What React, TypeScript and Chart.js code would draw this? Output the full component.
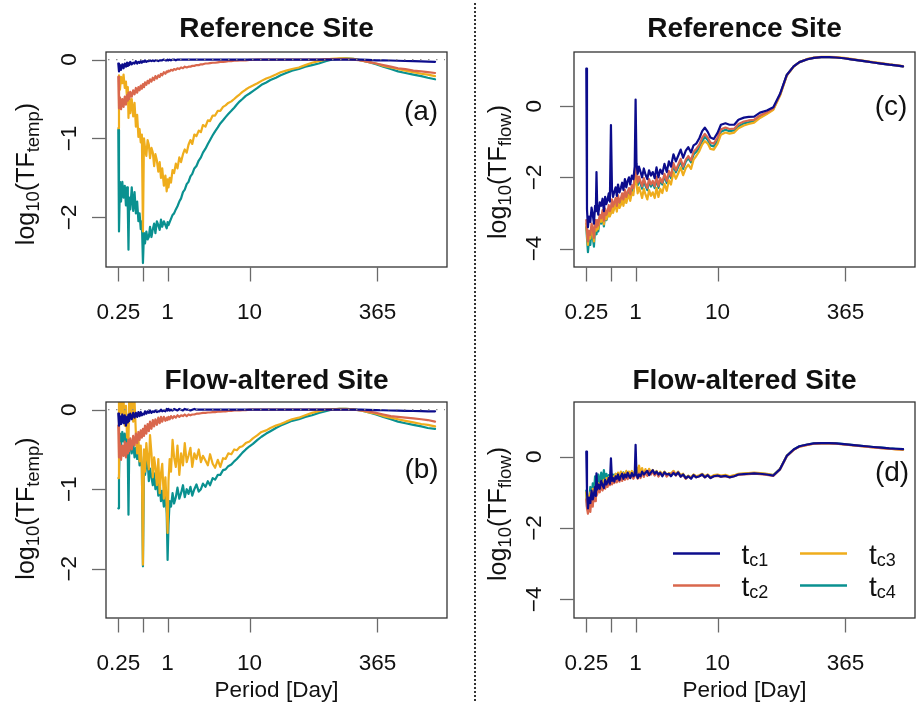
import React, { useEffect, useRef } from "react";
import { Chart, registerables } from "chart.js";

Chart.register(...registerables);

const FONT = '"Liberation Sans", Arial, Helvetica, sans-serif';

// Period grid (days), shared by all panels
const PERIOD = [
  0.25, 0.255, 0.262, 0.27, 0.28, 0.29, 0.3, 0.31, 0.32, 0.327,
  0.333, 0.34, 0.35, 0.365, 0.38, 0.395, 0.41, 0.425, 0.44, 0.455,
  0.47, 0.485, 0.5, 0.515, 0.53, 0.55, 0.57, 0.59, 0.61, 0.635,
  0.66, 0.685, 0.71, 0.74, 0.77, 0.8, 0.83, 0.86, 0.9, 0.94,
  0.975, 1.0, 1.025, 1.06, 1.1, 1.15, 1.2, 1.26, 1.32, 1.39,
  1.46, 1.54, 1.62, 1.71, 1.8, 1.9, 2.0, 2.12, 2.25, 2.4,
  2.55, 2.7, 2.9, 3.1, 3.3, 3.55, 3.8, 4.1, 4.4, 4.75,
  5.1, 5.5, 6.0, 6.5, 7.0, 7.6, 8.2, 9.0, 10, 11,
  12.5, 14, 16, 18, 21, 24, 28, 33, 40, 48,
  58, 70, 85, 100, 125, 150, 185, 230, 280, 350,
  430, 530, 650, 800, 1000, 1250, 1500, 1840,
];

// (a) Reference site, log10(TF_temp)
const A_TC1 = [
  -0.05, -0.15, -0.07, -0.13, -0.06, -0.11, -0.05, -0.09, -0.04, -0.08,
  -0.05, -0.07, -0.03, -0.06, -0.04, -0.05, -0.02, -0.05, -0.03, -0.04,
  -0.02, -0.04, -0.02, -0.03, -0.01, -0.03, -0.02, -0.02, -0.01, -0.02,
  -0.01, -0.02, -0.01, -0.01, -0.02, -0.01, -0.01, -0.01, 0, -0.01,
  -0.01, 0, -0.01, 0, -0.01, 0, 0, -0.01, 0, 0,
  0, 0, 0, 0, 0, 0, 0, 0, 0, 0,
  0, 0, 0, 0, 0, 0, 0, 0, 0, 0,
  0, 0, 0, 0, 0, 0, 0, 0, 0, 0,
  0, 0, 0, 0, 0, 0, 0, 0, 0, 0,
  0, 0, 0, 0, 0, 0, 0, 0, -0.005, -0.01,
  -0.01, -0.012, -0.015, -0.018, -0.02, -0.022, -0.025, -0.028,
];
const A_TC2 = [
  -0.22, -0.62, -0.48, -0.63, -0.5, -0.6, -0.47, -0.57, -0.45, -0.52,
  -0.42, -0.5, -0.41, -0.47, -0.39, -0.44, -0.36, -0.42, -0.35, -0.39,
  -0.33, -0.37, -0.31, -0.35, -0.29, -0.32, -0.27, -0.3, -0.25, -0.28,
  -0.23, -0.26, -0.21, -0.24, -0.2, -0.22, -0.18, -0.2, -0.16, -0.18,
  -0.15, -0.16, -0.14, -0.15, -0.13, -0.14, -0.12, -0.13, -0.11, -0.12,
  -0.1, -0.11, -0.09, -0.1, -0.09, -0.09, -0.08, -0.08, -0.07, -0.07,
  -0.06, -0.06, -0.05, -0.05, -0.045, -0.04, -0.04, -0.035, -0.03, -0.03,
  -0.025, -0.02, -0.02, -0.015, -0.015, -0.01, -0.01, -0.01, -0.005, -0.005,
  0, 0, 0, 0, 0, 0, 0, 0, 0, 0,
  0, 0, 0.005, 0.005, 0.005, 0.005, 0, -0.01, -0.03, -0.05,
  -0.07, -0.09, -0.11, -0.12, -0.14, -0.15, -0.16, -0.17,
];
const A_TC3 = [
  -0.87, -0.2, -0.38, -0.22, -0.3, -0.19, -0.36, -0.28, -0.5, -0.35,
  -0.74, -0.45, -0.68, -0.5, -0.72, -0.55, -0.85, -0.7, -0.98, -0.88,
  -1.05, -0.95, -2.18, -1.0, -1.12, -1.22, -1.02, -1.08, -1.25, -1.12,
  -1.18, -1.35, -1.2, -1.28, -1.42, -1.3, -1.5, -1.38, -1.6, -1.47,
  -1.67, -1.52, -1.62, -1.5, -1.56, -1.4, -1.44, -1.32, -1.38, -1.24,
  -1.3, -1.2, -1.14, -1.18, -1.08, -1.02, -1.07, -0.95, -0.97, -0.9,
  -0.92, -0.83, -0.85, -0.77, -0.78, -0.71, -0.71, -0.65, -0.65, -0.6,
  -0.58, -0.55, -0.53, -0.5, -0.47, -0.44, -0.41, -0.38, -0.35, -0.33,
  -0.3, -0.27, -0.24, -0.22, -0.19, -0.16, -0.14, -0.12, -0.1, -0.07,
  -0.04, -0.02, 0, 0.01, 0.015, 0.015, 0.01, -0.01, -0.03, -0.05,
  -0.08, -0.1, -0.12, -0.14, -0.16, -0.18, -0.19, -0.21,
];
const A_TC4 = [
  -0.89, -2.18, -1.55, -1.8, -1.55, -1.75, -1.6, -1.85, -1.62, -1.9,
  -2.41, -1.75, -1.9, -1.62, -1.92, -1.68, -1.95, -1.8, -2.05, -1.95,
  -2.15, -2.05, -2.58, -2.2, -2.33, -2.18, -2.28, -2.25, -2.12, -2.25,
  -2.15, -2.08, -2.2, -2.05, -2.1, -2.16, -2.03, -2.12, -2.05, -2.1,
  -2.14, -2.06, -2.1, -2.06, -2.02, -1.97, -1.95, -1.9, -1.86, -1.8,
  -1.76, -1.68, -1.65, -1.58, -1.55, -1.48, -1.45, -1.38, -1.35, -1.28,
  -1.24, -1.18, -1.13, -1.07, -1.02, -0.96, -0.91, -0.86, -0.81, -0.77,
  -0.73, -0.69, -0.65, -0.61, -0.57, -0.53, -0.5, -0.46, -0.43, -0.4,
  -0.36, -0.32, -0.29, -0.26, -0.23, -0.2, -0.17, -0.14, -0.12, -0.09,
  -0.07, -0.05, -0.02, 0, 0.01, 0.015, 0.01, -0.01, -0.03, -0.06,
  -0.09, -0.12, -0.15, -0.17, -0.19, -0.21, -0.23, -0.25,
];

// (b) Flow-altered site, log10(TF_temp)
const B_TC1 = [
  -0.05, -0.2, -0.08, -0.18, -0.06, -0.17, -0.07, -0.2, -0.09, -0.16,
  -0.06, -0.14, -0.05, -0.12, -0.04, -0.1, -0.04, -0.09, -0.03, -0.08,
  -0.03, -0.07, -0.05, -0.06, -0.02, -0.05, -0.02, -0.04, -0.01, -0.04,
  -0.02, -0.03, -0.01, -0.03, -0.02, -0.02, 0, -0.02, -0.01, -0.02,
  0.01, -0.01, 0.01, -0.01, 0, -0.01, 0.01, 0, -0.01, 0.01,
  0, -0.01, 0.01, 0, 0, -0.01, 0, 0.01, 0, 0,
  0, 0, 0, 0, 0, 0, 0, 0, 0, 0,
  0, 0, 0, 0, 0, 0, 0, 0, 0, 0,
  0, 0, 0, 0, 0, 0, 0, 0, 0, 0,
  0, 0, 0, 0, 0, 0, 0, 0, -0.003, -0.005,
  -0.007, -0.01, -0.012, -0.014, -0.016, -0.018, -0.02, -0.02,
];
const B_TC2 = [
  -0.2, -0.6, -0.42, -0.63, -0.45, -0.58, -0.4, -0.6, -0.42, -0.55,
  -0.38, -0.52, -0.36, -0.5, -0.33, -0.45, -0.3, -0.42, -0.28, -0.38,
  -0.26, -0.35, -0.24, -0.33, -0.2, -0.3, -0.18, -0.27, -0.15, -0.24,
  -0.13, -0.21, -0.12, -0.19, -0.1, -0.17, -0.09, -0.15, -0.09, -0.14,
  -0.1, -0.13, -0.09, -0.12, -0.08, -0.11, -0.08, -0.1, -0.07, -0.09,
  -0.07, -0.08, -0.06, -0.08, -0.06, -0.07, -0.06, -0.06, -0.05, -0.05,
  -0.045, -0.04, -0.04, -0.035, -0.035, -0.03, -0.03, -0.025, -0.025, -0.02,
  -0.02, -0.015, -0.015, -0.01, -0.01, -0.01, -0.005, -0.005, 0, 0,
  0, 0, 0, 0, 0, 0, 0, 0, 0, 0,
  0, 0, 0, 0, 0, 0, 0, -0.01, -0.02, -0.04,
  -0.06, -0.08, -0.09, -0.1, -0.11, -0.12, -0.13, -0.15,
];
const B_TC3 = [
  -0.86, 0.2, -0.05, 0.15, -0.1, 0.12, -0.2, 0.05, -0.35, -0.1,
  -0.4, 0.15, -0.1, 0.2, -0.15, 0.1, -0.3, -0.55, -0.35, -0.65,
  -0.45, -0.72, -1.95, -0.5, -0.78, -0.42, -0.62, -0.75, -0.32, -0.55,
  -0.85, -0.6, -0.72, -0.95, -0.62, -1.05, -0.8, -0.68, -1.12, -0.85,
  -1.2, -1.55, -0.9, -0.62, -0.78, -0.38, -0.6, -0.72, -0.45, -0.82,
  -0.55, -0.7, -0.42, -0.66, -0.58, -0.48, -0.72, -0.55, -0.62, -0.5,
  -0.66, -0.58, -0.64, -0.7, -0.56, -0.68, -0.73, -0.63, -0.72, -0.61,
  -0.62, -0.55, -0.56, -0.5, -0.51, -0.47, -0.46, -0.42, -0.4, -0.36,
  -0.32, -0.28, -0.26, -0.23, -0.2, -0.18, -0.15, -0.12, -0.1, -0.07,
  -0.04, -0.02, 0, 0.005, 0.01, 0.01, 0.005, -0.01, -0.03, -0.05,
  -0.08, -0.1, -0.12, -0.14, -0.16, -0.18, -0.19, -0.21,
];
const B_TC4 = [
  -1.24, -0.86, -0.3, -0.45, -0.28, -0.4, -0.3, -0.45, -0.35, -0.6,
  -1.32, -0.5, -0.4, -0.55, -0.42, -0.6, -0.48, -0.62, -0.5, -0.7,
  -0.55, -0.72, -1.97, -0.65, -0.82, -0.7, -0.62, -0.9, -0.74, -0.85,
  -0.95, -0.8, -1.0, -0.88, -1.08, -0.92, -1.15, -1.02, -1.22, -1.05,
  -1.3, -1.89, -1.45, -1.15, -1.22, -1.05, -1.18, -1.1, -0.98, -1.12,
  -1.05, -0.95, -1.1, -1.0, -1.06, -0.97, -1.08, -1.0, -0.94, -1.03,
  -1.0, -0.93, -0.97, -0.9, -0.95, -0.86, -0.88, -0.82, -0.82, -0.76,
  -0.75, -0.71, -0.69, -0.65, -0.62, -0.58, -0.54, -0.5, -0.46, -0.43,
  -0.38, -0.34, -0.3, -0.27, -0.23, -0.2, -0.17, -0.14, -0.12, -0.09,
  -0.07, -0.04, -0.02, 0, 0.01, 0.01, 0.005, -0.01, -0.03, -0.06,
  -0.09, -0.12, -0.15, -0.17, -0.19, -0.21, -0.23, -0.24,
];

// (c) Reference site, log10(TF_flow)
const C_TC1 = [
  1.06, -2.9, -3.4, -3.1, -3.25, -2.85, -3.05, -3.3, -2.8, -2.95,
  -1.85, -2.85, -3.05, -2.7, -2.8, -2.6, -2.95, -2.55, -2.75, -2.62,
  -2.45, -2.68, -0.53, -2.35, -2.55, -2.4, -2.28, -2.52, -2.2, -2.42,
  -2.3, -2.15, -2.35, -2.05, -2.28, -2.1, -2.0, -2.2, -1.95, -2.05,
  -1.7, 0.19, -1.6, -1.9, -1.7, -1.85, -2.0, -1.75, -1.92, -2.05,
  -1.8, -1.95, -1.85, -2.02, -1.72, -2.0, -1.78, -1.9, -1.62, -1.85,
  -1.55, -1.7, -1.35, -1.55, -1.4, -1.22, -1.45, -1.25, -1.15, -1.3,
  -1.1, -1.05, -0.9, -0.7, -0.6, -0.72, -0.88, -0.92, -0.75, -0.52,
  -0.48, -0.52, -0.52, -0.38, -0.32, -0.3, -0.29, -0.18, -0.12, -0.03,
  0.35, 0.88, 1.12, 1.24, 1.32, 1.36, 1.38, 1.38, 1.37, 1.35,
  1.32, 1.29, 1.26, 1.23, 1.2, 1.17, 1.15, 1.12,
];
const C_TC2 = [
  -3.2, -3.5, -3.8, -3.5, -3.62, -3.3, -3.45, -3.7, -3.2, -3.35,
  -3.4, -3.2, -3.35, -3.05, -3.15, -2.92, -3.22, -2.88, -3.05, -2.95,
  -2.78, -2.95, -2.85, -2.62, -2.82, -2.7, -2.58, -2.8, -2.5, -2.7,
  -2.6, -2.45, -2.62, -2.35, -2.55, -2.4, -2.3, -2.48, -2.22, -2.3,
  -1.95, -1.6, -1.92, -2.15, -1.98, -2.12, -2.25, -2.02, -2.18, -2.3,
  -2.05, -2.2, -2.1, -2.25, -1.98, -2.24, -2.02, -2.15, -1.9, -2.1,
  -1.82, -1.96, -1.6, -1.8, -1.65, -1.48, -1.7, -1.5, -1.4, -1.52,
  -1.28, -1.2, -1.08, -0.88, -0.78, -0.88, -1.02, -1.05, -0.88, -0.65,
  -0.6, -0.64, -0.63, -0.5, -0.43, -0.4, -0.38, -0.26, -0.17, -0.06,
  0.33, 0.87, 1.12, 1.24, 1.32, 1.36, 1.38, 1.38, 1.37, 1.35,
  1.32, 1.29, 1.26, 1.23, 1.2, 1.17, 1.15, 1.12,
];
const C_TC3 = [
  -3.3, -3.6, -3.9, -3.6, -3.72, -3.4, -3.55, -3.8, -3.3, -3.45,
  -3.5, -3.3, -3.45, -3.15, -3.25, -3.05, -3.32, -3.0, -3.18, -3.08,
  -2.92, -3.1, -3.0, -2.78, -3.0, -2.86, -2.74, -2.96, -2.66, -2.86,
  -2.78, -2.62, -2.8, -2.52, -2.72, -2.58, -2.48, -2.66, -2.42, -2.5,
  -2.1, -1.6, -2.18, -2.45, -2.28, -2.42, -2.58, -2.32, -2.48, -2.62,
  -2.36, -2.52, -2.42, -2.58, -2.3, -2.55, -2.32, -2.44, -2.18, -2.38,
  -2.08, -2.2, -1.86, -2.04, -1.9, -1.72, -1.94, -1.74, -1.64, -1.76,
  -1.5, -1.4, -1.26, -1.08, -0.98, -1.05, -1.2, -1.22, -1.06, -0.8,
  -0.74, -0.77, -0.74, -0.62, -0.54, -0.5, -0.46, -0.33, -0.22, -0.1,
  0.3, 0.86, 1.11, 1.24, 1.33, 1.37, 1.39, 1.39, 1.38, 1.36,
  1.33, 1.3, 1.27, 1.24, 1.21, 1.18, 1.16, 1.13,
];
const C_TC4 = [
  -3.4, -3.7, -4.1, -3.75, -3.9, -3.5, -3.68, -3.95, -3.45, -3.55,
  -3.6, -3.38, -3.52, -3.18, -3.3, -3.08, -3.38, -3.02, -3.2, -3.1,
  -2.9, -3.06, -2.98, -2.74, -2.94, -2.8, -2.68, -2.9, -2.6, -2.8,
  -2.7, -2.55, -2.72, -2.45, -2.65, -2.5, -2.4, -2.58, -2.32, -2.4,
  -1.95, -1.55, -2.0, -2.22, -2.05, -2.18, -2.32, -2.08, -2.24, -2.36,
  -2.1, -2.26, -2.16, -2.3, -2.04, -2.3, -2.08, -2.2, -1.96, -2.16,
  -1.88, -2.02, -1.66, -1.86, -1.72, -1.55, -1.76, -1.56, -1.46, -1.58,
  -1.36, -1.28, -1.16, -0.98, -0.86, -0.95, -1.1, -1.13, -0.97, -0.72,
  -0.66, -0.7, -0.68, -0.56, -0.48, -0.45, -0.42, -0.3, -0.2, -0.08,
  0.32, 0.87, 1.12, 1.24, 1.32, 1.36, 1.38, 1.38, 1.37, 1.35,
  1.32, 1.29, 1.26, 1.23, 1.2, 1.17, 1.15, 1.12,
];

// (d) Flow-altered site, log10(TF_flow)
const D_TC1 = [
  0.14, -1.0, -1.45, -1.15, -1.3, -0.95, -1.2, -1.05, -0.85, -1.1,
  -0.47, -0.92, -0.78, -0.9, -0.68, -0.8, -0.88, -0.65, -0.78, -0.7,
  -0.6, -0.76, -0.05, -0.68, -0.6, -0.7, -0.55, -0.62, -0.5, -0.66,
  -0.55, -0.48, -0.62, -0.5, -0.58, -0.45, -0.54, -0.6, -0.46, -0.55,
  -0.52, 0.33, -0.48, -0.6, -0.5, -0.55, -0.42, -0.5, -0.45, -0.4,
  -0.52, -0.44, -0.38, -0.48, -0.42, -0.5, -0.45, -0.55, -0.44, -0.5,
  -0.48, -0.55, -0.46, -0.52, -0.44, -0.56, -0.5, -0.6, -0.55, -0.62,
  -0.52, -0.58, -0.55, -0.5, -0.58, -0.52, -0.6, -0.55, -0.53, -0.56,
  -0.54, -0.58, -0.55, -0.5, -0.49, -0.48, -0.47, -0.48, -0.5, -0.53,
  -0.35, 0.02, 0.2, 0.29, 0.34, 0.37, 0.38, 0.38, 0.37, 0.35,
  0.33, 0.31, 0.29, 0.27, 0.25, 0.23, 0.22, 0.21,
];
const D_TC2 = [
  -1.2, -1.45, -1.6, -1.3, -1.55, -1.1, -1.4, -1.0, -1.25, -0.95,
  -1.1, -1.05, -0.88, -1.0, -0.82, -0.95, -0.78, -0.9, -0.72, -0.85,
  -0.7, -0.8, -0.68, -0.78, -0.65, -0.74, -0.6, -0.72, -0.58, -0.7,
  -0.55, -0.68, -0.52, -0.65, -0.5, -0.63, -0.5, -0.6, -0.5, -0.62,
  -0.55, -0.5, -0.5, -0.62, -0.47, -0.6, -0.44, -0.57, -0.42, -0.54,
  -0.4, -0.5, -0.42, -0.53, -0.43, -0.56, -0.46, -0.53, -0.45, -0.56,
  -0.49, -0.51, -0.43, -0.53, -0.45, -0.56, -0.51, -0.62, -0.56, -0.6,
  -0.53, -0.58, -0.55, -0.51, -0.58, -0.53, -0.6, -0.55, -0.54, -0.56,
  -0.55, -0.58, -0.55, -0.51, -0.5, -0.49, -0.48, -0.49, -0.51, -0.54,
  -0.36, 0.01, 0.19, 0.28, 0.33, 0.36, 0.37, 0.37, 0.36, 0.34,
  0.32, 0.3, 0.28, 0.26, 0.24, 0.22, 0.21, 0.2,
];
const D_TC3 = [
  -1.0, -1.3, -1.1, -1.35, -1.0, -1.3, -0.9, -1.15, -0.85, -1.05,
  -0.8, -0.95, -0.75, -0.9, -0.68, -0.85, -0.65, -0.8, -0.6, -0.75,
  -0.58, -0.72, -0.5, -0.65, -0.55, -0.62, -0.48, -0.6, -0.45, -0.6,
  -0.42, -0.58, -0.45, -0.56, -0.4, -0.55, -0.42, -0.52, -0.4, -0.52,
  -0.42, -0.45, -0.3, -0.5, -0.25, -0.48, -0.32, -0.5, -0.35, -0.5,
  -0.34, -0.46, -0.37, -0.5, -0.4, -0.52, -0.42, -0.5, -0.42, -0.52,
  -0.46, -0.48, -0.4, -0.5, -0.42, -0.52, -0.48, -0.6, -0.53, -0.58,
  -0.5, -0.55, -0.52, -0.48, -0.55, -0.5, -0.57, -0.52, -0.5, -0.53,
  -0.51, -0.55, -0.52, -0.48, -0.47, -0.46, -0.45, -0.46, -0.48, -0.52,
  -0.34, 0.02, 0.19, 0.28, 0.33, 0.36, 0.37, 0.37, 0.36, 0.34,
  0.32, 0.3, 0.28, 0.26, 0.24, 0.22, 0.2, 0.19,
];
const D_TC4 = [
  -0.95, -1.4, -1.2, -1.3, -0.85, -1.2, -0.75, -1.0, -0.55, -0.9,
  -0.6, -0.8, -0.5, -0.75, -0.45, -0.7, -0.38, -0.65, -0.48, -0.7,
  -0.52, -0.72, -0.55, -0.68, -0.5, -0.65, -0.48, -0.63, -0.47, -0.62,
  -0.45, -0.6, -0.44, -0.58, -0.43, -0.57, -0.43, -0.55, -0.44, -0.56,
  -0.48, -0.4, -0.46, -0.58, -0.44, -0.57, -0.41, -0.54, -0.4, -0.51,
  -0.37, -0.47, -0.39, -0.51, -0.41, -0.54, -0.44, -0.51, -0.43, -0.54,
  -0.47, -0.49, -0.41, -0.51, -0.43, -0.54, -0.49, -0.61, -0.54, -0.59,
  -0.51, -0.57, -0.54, -0.49, -0.57, -0.51, -0.59, -0.54, -0.52, -0.55,
  -0.53, -0.57, -0.54, -0.49, -0.48, -0.47, -0.46, -0.47, -0.49, -0.52,
  -0.35, 0.02, 0.2, 0.29, 0.34, 0.37, 0.38, 0.38, 0.37, 0.35,
  0.33, 0.31, 0.29, 0.27, 0.25, 0.23, 0.22, 0.21,
];

const X_TICKS = [0.25, 0.5, 1, 10, 365];
const X_TICK_LABELS = ["0.25", "", "1", "10", "365"];
const TEMP_Y_TICKS = [0, -1, -2];
const FLOW_Y_TICKS = [0, -2, -4];
const SERIES_SUBS = ["c1", "c2", "c3", "c4"];
const COLORS = ["#0c0c8c", "#d9674d", "#efad1c", "#0a9190"];
const X_MIN = 0.177;
const X_MAX = 2575;

type Part = { t: string; sub?: boolean };

function drawRich(
  ctx: CanvasRenderingContext2D,
  parts: Part[],
  x: number,
  y: number,
  main: number,
  sub: number,
  shift: number,
  align: "center" | "left"
) {
  const fm = `${main}px ${FONT}`;
  const fs = `${sub}px ${FONT}`;
  let total = 0;
  const widths = parts.map((p) => {
    ctx.font = p.sub ? fs : fm;
    const w = ctx.measureText(p.t).width;
    total += w;
    return w;
  });
  let cx = align === "center" ? x - total / 2 : x;
  ctx.textAlign = "left";
  ctx.textBaseline = "alphabetic";
  parts.forEach((p, i) => {
    ctx.font = p.sub ? fs : fm;
    ctx.fillText(p.t, cx, p.sub ? y + shift : y);
    cx += widths[i];
  });
}

type PanelDef = {
  key: string;
  left: number;
  top: number;
  width: number;
  height: number;
  pad: { left: number; right: number; top: number; bottom: number };
  series: number[][];
  yMin: number;
  yMax: number;
  yTicks: number[];
  title: string;
  titleY: number;
  letter: string;
  letterX: number;
  letterY: number;
  ySub: string;
  yTitleX: number;
  yTitleY: number;
  yTickX: number;
  xTitle: boolean;
  zeroLine: boolean;
  legend: boolean;
};

const PANELS: PanelDef[] = [
  {
    key: "a", left: 0, top: 0, width: 460, height: 340,
    pad: { left: 106, right: 13, top: 52, bottom: 73 },
    series: [A_TC1, A_TC2, A_TC3, A_TC4], yMin: -2.63, yMax: 0.096, yTicks: TEMP_Y_TICKS,
    title: "Reference Site", titleY: 37, letter: "(a)", letterX: 421, letterY: 112,
    ySub: "temp", yTitleX: 34, yTitleY: 174, yTickX: 75.5,
    xTitle: false, zeroLine: true, legend: false,
  },
  {
    key: "b", left: 0, top: 340, width: 460, height: 364,
    pad: { left: 106, right: 13, top: 62, bottom: 86 },
    series: [B_TC1, B_TC2, B_TC3, B_TC4], yMin: -2.62, yMax: 0.097, yTicks: TEMP_Y_TICKS,
    title: "Flow-altered Site", titleY: 48.5, letter: "(b)", letterX: 421.5, letterY: 130,
    ySub: "temp", yTitleX: 34, yTitleY: 168.5, yTickX: 75.5,
    xTitle: true, zeroLine: true, legend: false,
  },
  {
    key: "c", left: 460, top: 0, width: 458, height: 340,
    pad: { left: 114, right: 3, top: 52, bottom: 73 },
    series: [C_TC1, C_TC2, C_TC3, C_TC4], yMin: -4.52, yMax: 1.525, yTicks: FLOW_Y_TICKS,
    title: "Reference Site", titleY: 37, letter: "(c)", letterX: 431, letterY: 107,
    ySub: "flow", yTitleX: 46, yTitleY: 172, yTickX: 81,
    xTitle: false, zeroLine: false, legend: false,
  },
  {
    key: "d", left: 460, top: 340, width: 458, height: 364,
    pad: { left: 114, right: 3, top: 62, bottom: 86 },
    series: [D_TC1, D_TC2, D_TC3, D_TC4], yMin: -4.52, yMax: 1.53, yTicks: FLOW_Y_TICKS,
    title: "Flow-altered Site", titleY: 48.5, letter: "(d)", letterX: 432, letterY: 133,
    ySub: "flow", yTitleX: 46, yTitleY: 174, yTickX: 81,
    xTitle: true, zeroLine: false, legend: true,
  },
];

function makeDecor(p: PanelDef) {
  return {
    id: "decor_" + p.key,
    afterDatasetsDraw(chart: any) {
      if (!p.zeroLine) return;
      const { ctx, chartArea: a, scales } = chart;
      const y0 = scales.y.getPixelForValue(0);
      ctx.save();
      ctx.strokeStyle = "#8c8c8c";
      ctx.lineWidth = 1.3;
      ctx.setLineDash([1.5, 6.5]);
      ctx.beginPath();
      ctx.moveTo(a.left + 2, y0);
      ctx.lineTo(a.right - 2, y0);
      ctx.stroke();
      ctx.restore();
    },
    afterDraw(chart: any) {
      const { ctx, chartArea: a, scales } = chart;
      const xs = scales.x;
      const ys = scales.y;
      ctx.save();
      // box
      ctx.strokeStyle = "#333";
      ctx.lineWidth = 1.3;
      ctx.strokeRect(a.left, a.top, a.right - a.left, a.bottom - a.top);
      // x ticks
      ctx.strokeStyle = "#6a6a6a";
      ctx.lineWidth = 1.3;
      ctx.fillStyle = "#111";
      X_TICKS.forEach((v, i) => {
        const px = Math.round(xs.getPixelForValue(v)) + 0.5;
        ctx.beginPath();
        ctx.moveTo(px, a.bottom);
        ctx.lineTo(px, a.bottom + 14.5);
        ctx.stroke();
        if (X_TICK_LABELS[i]) {
          ctx.font = `22.5px ${FONT}`;
          ctx.textAlign = "center";
          ctx.textBaseline = "alphabetic";
          ctx.fillText(X_TICK_LABELS[i], xs.getPixelForValue(v), a.bottom + 51.5);
        }
      });
      // y ticks
      p.yTicks.forEach((v) => {
        const py = Math.round(ys.getPixelForValue(v)) + 0.5;
        ctx.beginPath();
        ctx.moveTo(a.left - 14, py);
        ctx.lineTo(a.left, py);
        ctx.stroke();
        ctx.save();
        ctx.translate(p.yTickX, ys.getPixelForValue(v));
        ctx.rotate(-Math.PI / 2);
        ctx.font = `22.5px ${FONT}`;
        ctx.textAlign = "center";
        ctx.textBaseline = "alphabetic";
        ctx.fillText(v === 0 ? "0" : "\u2212" + String(Math.abs(v)), 0, 0);
        ctx.restore();
      });
      // title
      ctx.font = `bold 28px ${FONT}`;
      ctx.textAlign = "center";
      ctx.textBaseline = "alphabetic";
      ctx.fillText(p.title, (a.left + a.right) / 2, p.titleY);
      // panel letter
      ctx.font = `28px ${FONT}`;
      ctx.textBaseline = "middle";
      ctx.fillText(p.letter, p.letterX, p.letterY);
      // y title
      ctx.save();
      ctx.translate(p.yTitleX, p.yTitleY);
      ctx.rotate(-Math.PI / 2);
      drawRich(
        ctx,
        [{ t: "log" }, { t: "10", sub: true }, { t: "(TF" }, { t: p.ySub, sub: true }, { t: ")" }],
        0, 0, 25, 18.5, 4.5, "center"
      );
      ctx.restore();
      // x title
      if (p.xTitle) {
        ctx.font = `22.5px ${FONT}`;
        ctx.textAlign = "center";
        ctx.textBaseline = "alphabetic";
        ctx.fillText("Period [Day]", (a.left + a.right) / 2, a.bottom + 78.5);
      }
      // legend
      if (p.legend) {
        const cols = [213, 340];
        const rows = [213.5, 245.5];
        const textX = [281.5, 409];
        SERIES_SUBS.forEach((s, i) => {
          const c = Math.floor(i / 2);
          const r = i % 2;
          ctx.strokeStyle = COLORS[i];
          ctx.lineWidth = 2.4;
          ctx.beginPath();
          ctx.moveTo(cols[c], rows[r]);
          ctx.lineTo(cols[c] + 47, rows[r]);
          ctx.stroke();
          ctx.fillStyle = "#111";
          drawRich(ctx, [{ t: "t" }, { t: s, sub: true }], textX[c], rows[r] + 10, 28, 18, 2, "left");
        });
      }
      ctx.restore();
    },
  };
}

function Panel({ p }: { p: PanelDef }) {
  const ref = useRef<HTMLCanvasElement | null>(null);
  useEffect(() => {
    if (!ref.current) return;
    const chart = new Chart(ref.current, {
      type: "line",
      data: {
        datasets: p.series.map((s, i) => ({
          label: "t" + SERIES_SUBS[i],
          data: PERIOD.map((x, j) => ({ x, y: s[j] })),
          borderColor: COLORS[i],
          backgroundColor: COLORS[i],
          borderWidth: 2.2,
          pointRadius: 0,
          tension: 0,
          fill: false,
          clip: 0,
          borderJoinStyle: "round",
          borderCapStyle: "round",
        })),
      },
      options: {
        responsive: false,
        maintainAspectRatio: false,
        animation: false,
        devicePixelRatio: 1,
        events: [],
        layout: { padding: p.pad },
        plugins: { legend: { display: false }, tooltip: { enabled: false }, title: { display: false } },
        scales: {
          x: { type: "logarithmic", min: X_MIN, max: X_MAX, display: false },
          y: { type: "linear", min: p.yMin, max: p.yMax, display: false },
        },
      } as any,
      plugins: [makeDecor(p)],
    } as any);
    return () => chart.destroy();
  }, [p]);
  return (
    <canvas
      ref={ref}
      width={p.width}
      height={p.height}
      style={{ position: "absolute", left: p.left, top: p.top, width: p.width, height: p.height }}
    />
  );
}

export default function App() {
  return (
    <div
      style={{
        position: "absolute",
        left: 0,
        top: 0,
        width: 918,
        height: 704,
        background: "#fff",
        overflow: "hidden",
      }}
    >
      {PANELS.map((p) => (
        <Panel key={p.key} p={p} />
      ))}
      <div
        style={{
          position: "absolute",
          left: 474,
          top: 3,
          width: 0,
          height: 698,
          borderLeft: "2px dotted #333",
        }}
      />
    </div>
  );
}
